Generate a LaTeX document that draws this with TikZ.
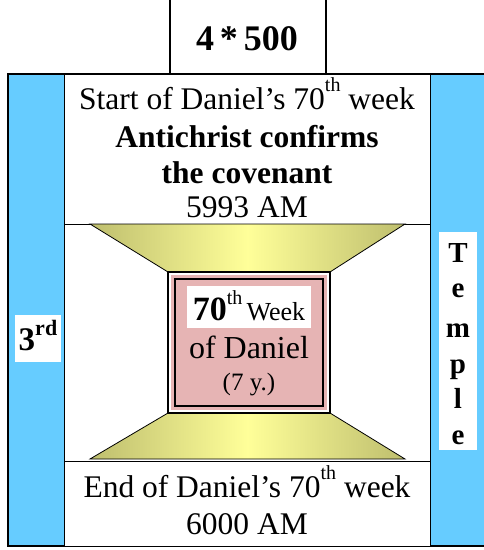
\documentclass[tikz,border=0pt]{standalone}
\usepackage{fontspec}
\setmainfont{Liberation Serif}
\begin{document}
\begin{tikzpicture}[x=1pt,y=-1pt,
  frame/.style={draw=black,line width=1.1pt},
  thin/.style={draw=black,line width=0.8pt},
  txt/.style={anchor=base,inner sep=0pt,font=\fontsize{31.5}{34}\selectfont},
  btxt/.style={anchor=base,inner sep=0pt,font=\fontsize{31.5}{34}\selectfont\bfseries},
  cone/.style={thin,left color=olivey,right color=olivey,middle color=lighty}]
\definecolor{bluey}{RGB}{102,204,255}
\definecolor{olivey}{RGB}{190,190,110}
\definecolor{lighty}{RGB}{255,255,153}
\definecolor{pinky}{RGB}{230,180,180}
\newcommand\supx[1]{\raisebox{0.55em}{\fontsize{20}{22}\selectfont #1}}
\useasboundingbox (0,0) rectangle (483,550);
% outer blue frame
\draw[frame,fill=bluey] (8,74) rectangle (495,546);
% top box
\draw[frame,fill=white] (170,-5) rectangle (326,74);
\node[anchor=base,inner sep=0pt,font=\fontsize{36}{38}\selectfont\bfseries] (ttl) at (247,50) {4\,*\,500};
% white panels
\draw[thin,fill=white] (64,74) rectangle (430,224);
\draw[thin,fill=white] (64,224) rectangle (430,461);
\draw[thin,fill=white] (64,461) rectangle (430,546);
% trapezoids
\draw[cone] (90,224) -- (405,224) -- (330,272) -- (168,272) -- cycle;
\draw[cone] (168,413) -- (330,413) -- (405,459) -- (90,459) -- cycle;
% pink box
\draw[draw=black,line width=1.2pt,fill=white] (168,272) rectangle (330,413);
\fill[pinky] (171,275) rectangle (327,410);
\draw[draw=black,line width=2pt] (175,279) rectangle (323,406);
\fill[white] (187,286) rectangle (311,328);
\node[anchor=base,inner sep=0pt] (w1) at (249,320) {\fontsize{34}{36}\selectfont\bfseries 70\raisebox{0.45em}{\fontsize{20}{22}\mdseries\selectfont th}\fontsize{26}{30}\mdseries\selectfont\,Week};
\node[anchor=base,inner sep=0pt,font=\fontsize{32}{34}\selectfont] (w2) at (249,358) {of Daniel};
\node[anchor=base,inner sep=0pt,font=\fontsize{25}{28}\selectfont] (w3) at (249,390) {(7 y.)};
% top texts
\node[txt] (s1) at (247,109) {Start of Daniel’s 70\supx{th} week};
\node[btxt] (s2) at (247,147) {Antichrist confirms};
\node[btxt] (s3) at (247,183) {the covenant};
\node[txt] (s4) at (247,217) {5993 AM};
% bottom texts
\node[txt] (e1) at (247,497) {End of Daniel’s 70\supx{th} week};
\node[txt] (e2) at (247,534) {6000 AM};
% left label
\fill[white] (15,315) rectangle (61,362);
\node[anchor=base,inner sep=0pt,font=\fontsize{33}{35}\selectfont\bfseries] (third) at (38,350) {3\raisebox{0.45em}{\fontsize{22}{24}\selectfont rd}};
% right label
\fill[white] (439,232) rectangle (477,450);
\foreach \l/\yy [count=\i] in {T/262,e/297,m/337,p/373,l/408,e/444}{
  \node[anchor=base,inner sep=0pt,font=\fontsize{29}{30}\selectfont\bfseries] (tp\i) at (458,\yy) {\l};
}
\end{tikzpicture}
\end{document}
